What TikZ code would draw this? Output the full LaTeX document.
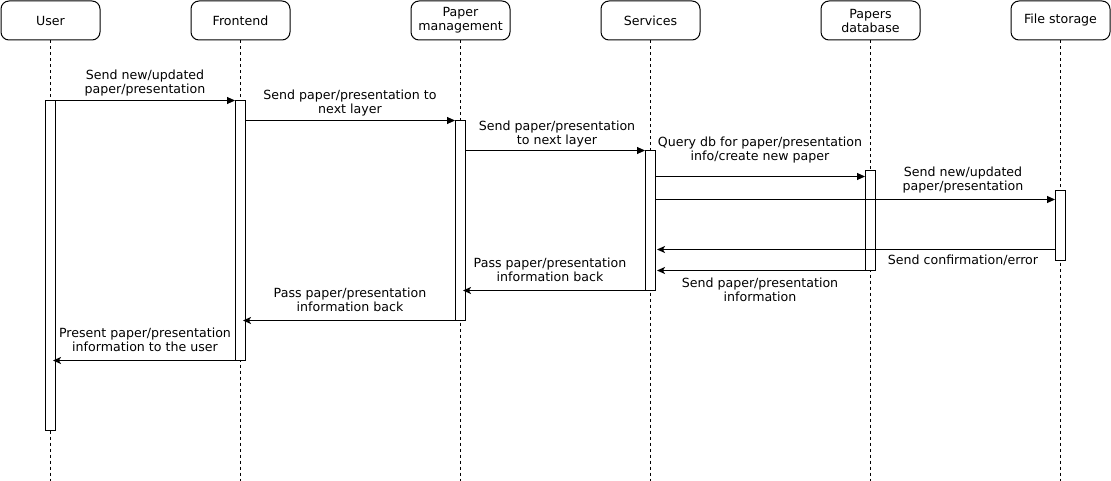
\documentclass[tikz,border=0pt]{standalone}
\usepackage{fontspec}
\setmainfont{DejaVu Sans}
\usetikzlibrary{arrows.meta}
\begin{document}
\begin{tikzpicture}[x=1pt,y=-1pt,
  head/.style={draw, line width=1pt, rounded corners=8pt, minimum width=99pt, minimum height=39pt, align=center, inner sep=0pt, font=\fontsize{12.6}{14}\selectfont},
  act/.style={draw, line width=1pt, fill=white, minimum width=10pt, inner sep=0pt},
  life/.style={line width=1pt, dash pattern=on 3pt off 3pt},
  msg/.style={line width=1pt, -{Triangle[length=8pt,width=7pt]}},
  ret/.style={line width=1pt, -{Stealth[length=8pt,width=7pt,inset=2pt]}},
  lbl/.style={align=center, inner sep=0pt, font=\fontsize{12.6}{14}\selectfont}]
\useasboundingbox (0,0) rectangle (1111,481);
% heads
\node[head] (u) at (50.5,20.5) {User};
\node[head] (f) at (240.5,20.5) {Frontend};
\node[head] (p) at (460.5,20.5) {Paper\\management};
\node[head] (s) at (650.5,20.5) {Services};
\node[head] (d) at (870.5,20.5) {Papers\\database};
\node[head] (fs) at (1060.5,20.5) {File storage};
% lifeline ends
\coordinate (ue) at (50.5,481);
\coordinate (fe) at (240.5,481);
\coordinate (pe) at (460.5,481);
\coordinate (se) at (650.5,481);
\coordinate (de) at (870.5,481);
\coordinate (fse) at (1060.5,481);
\draw[life] (u.south) -- (ue);
\draw[life] (f.south) -- (fe);
\draw[life] (p.south) -- (pe);
\draw[life] (s.south) -- (se);
\draw[life] (d.south) -- (de);
\draw[life] (fs.south) -- (fse);
% activations
\node[act, minimum height=330pt] (ua) at (50.5,265.5) {};
\node[act, minimum height=260pt] (fa) at (240.5,230.5) {};
\node[act, minimum height=200pt] (pa) at (460.5,220.5) {};
\node[act, minimum height=140pt] (sa) at (650.5,220.5) {};
\node[act, minimum height=100pt] (da) at (870.5,220.5) {};
\node[act, minimum height=70pt] (fsa) at (1060.5,225.5) {};
% message rows
\coordinate (m1) at (0,100.5);
\coordinate (m2) at (0,120.5);
\coordinate (m3) at (0,150.5);
\coordinate (m4) at (0,176.5);
\coordinate (m5) at (0,199.5);
\coordinate (m6) at (0,249.5);
\coordinate (m7) at (0,270.5);
\coordinate (m8) at (0,290.5);
\coordinate (m9) at (0,320.5);
\coordinate (m10) at (0,360.5);
% messages
\draw[msg] (ua.east |- m1) -- (fa.west |- m1);
\draw[msg] (fa.east |- m2) -- (pa.west |- m2);
\draw[msg] (pa.east |- m3) -- (sa.west |- m3);
\draw[msg] (sa.east |- m4) -- (da.west |- m4);
\draw[msg] (sa.east |- m5) -- (fsa.west |- m5);
\draw[ret] (fsa.west |- m6) -- ([xshift=1pt]sa.east |- m6);
\draw[ret] (da.west |- m7) -- ([xshift=1pt]sa.east |- m7);
\draw[ret] (sa.west |- m8) -- ([xshift=-3pt]pa.east |- m8);
\draw[ret] (pa.west |- m9) -- ([xshift=-3pt]fa.east |- m9);
\draw[ret] (fa.west |- m10) -- ([xshift=-3pt]ua.east |- m10);
% labels
\node[lbl] (l1) at (145,83) {Send new/updated\\paper/presentation};
\node[lbl] (l2) at (350,103) {Send paper/presentation to\\next layer};
\node[lbl] (l3) at (557,134) {Send paper/presentation\\to next layer};
\node[lbl] (l4) at (760,150) {Query db for paper/presentation\\info/create new paper};
\node[lbl] (l5) at (963,180) {Send new/updated\\paper/presentation};
\node[lbl] (l6) at (963,260) {Send confirmation/error};
\node[lbl] (l7) at (760,290) {Send paper/presentation\\information};
\node[lbl] (l8) at (550,270) {Pass paper/presentation\\information back};
\node[lbl] (l9) at (350,300) {Pass paper/presentation\\information back};
\node[lbl] (l10) at (145,340) {Present paper/presentation\\information to the user};
\end{tikzpicture}
\end{document}
